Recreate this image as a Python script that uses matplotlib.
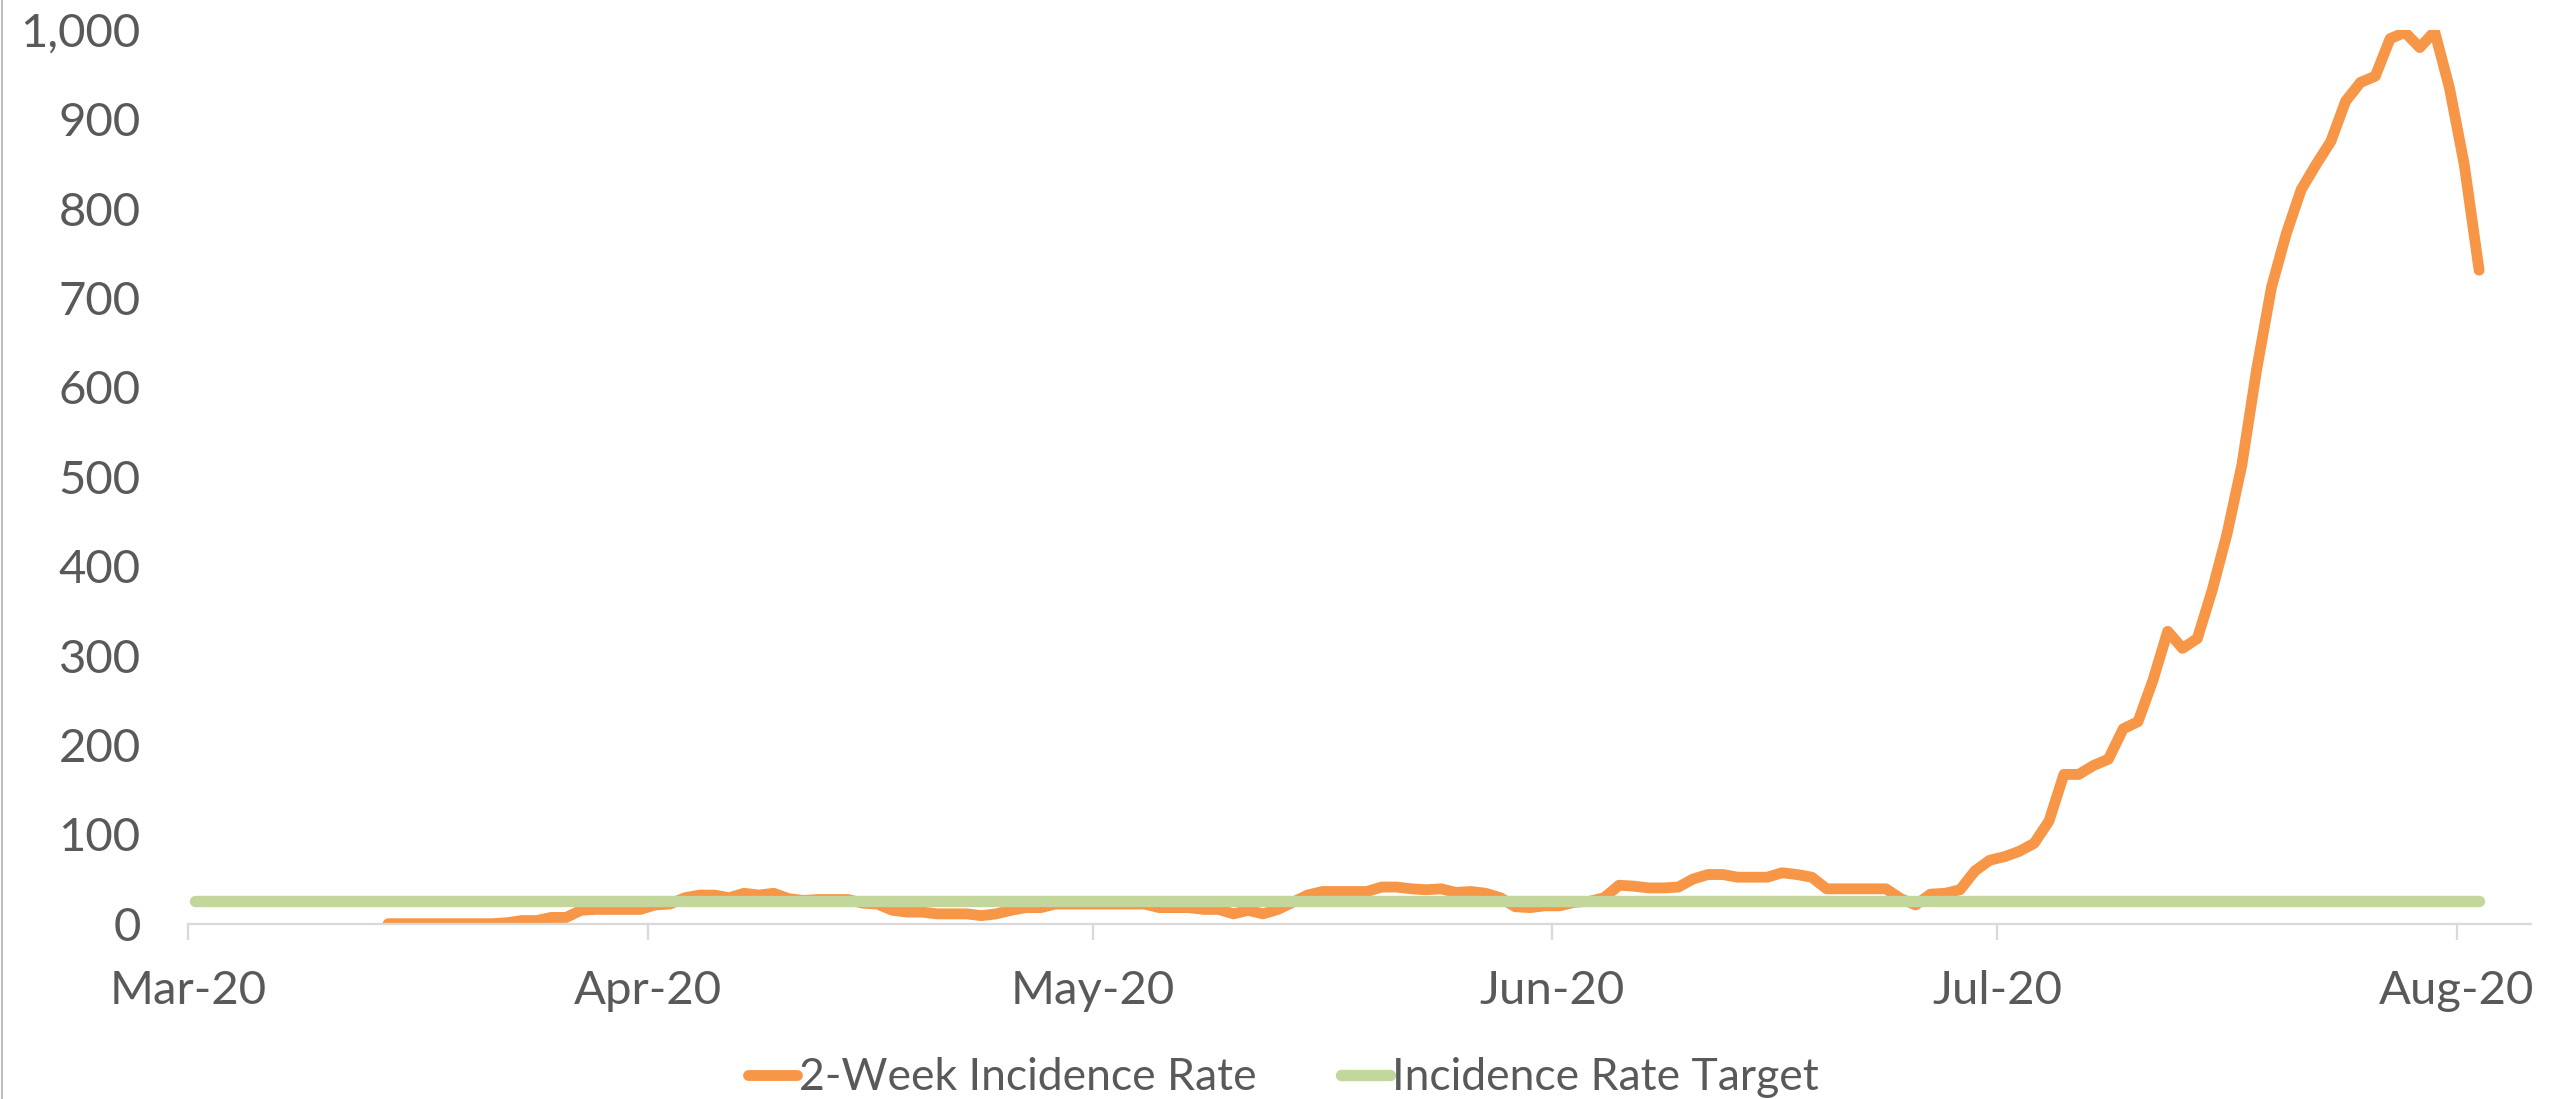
import matplotlib
matplotlib.use("Agg")
import matplotlib.pyplot as plt
import matplotlib.dates as mdates
from matplotlib.lines import Line2D
import pandas as pd

# 2-week incidence rate, one value per day from Mar 14 to Aug 2, 2020
rate_start = "2020-03-14"
rate_end = "2020-08-02"
rate_values = [
    0, 0, 0, 0, 0, 0, 0, 0, 1, 3.5, 3.5, 7, 7, 15, 16, 16, 16, 16,   # Mar 14-31
    21, 22, 29, 32, 32, 29, 34, 32, 34, 28, 26, 27, 27, 27, 23, 22,   # Apr 1-16
    15, 13, 13, 11, 11, 11, 9, 11, 15, 18, 18, 22, 22, 22,           # Apr 17-30
    22, 22, 22, 22, 18, 18, 18, 16, 16, 11, 15, 11, 16, 24, 32, 36,   # May 1-16
    36, 36, 36, 41, 41, 39, 38, 39, 35, 36, 34, 29, 19, 18, 20,       # May 17-31
    20, 24, 25, 29, 43, 42, 40, 40, 41, 50, 55, 55, 52, 52, 52,       # Jun 1-15
    57, 55, 52, 39, 39, 39, 39, 39, 28, 21, 33, 34, 38, 59, 71,       # Jun 16-30
    75, 81, 90, 115, 167, 167, 177, 184, 218, 226, 272, 327, 308,     # Jul 1-13
    319, 373, 436, 513, 620, 712, 772, 821, 849, 875, 920, 941,       # Jul 14-25
    948, 990, 997, 980, 998, 935,                                     # Jul 26-31
    849, 731,                                                         # Aug 1-2
]

# target line
target_start = "2020-03-01"
target_end = "2020-08-02"
target_value = 25

month_ticks = ["2020-03-01", "2020-04-01", "2020-05-01",
               "2020-06-01", "2020-07-01", "2020-08-01"]
month_labels = ["Mar-20", "Apr-20", "May-20", "Jun-20", "Jul-20", "Aug-20"]
y_ticks = [0, 100, 200, 300, 400, 500, 600, 700, 800, 900, 1000]

orange = "#F79646"
green = "#C3D69B"
text_gray = "#595959"
axis_gray = "#D9D9D9"

plt.rcParams["font.family"] = ["Lato", "DejaVu Sans"]

fig = plt.figure(figsize=(25.52, 10.99), dpi=100)
ax = fig.add_axes([188 / 2552, 1 - 923.7 / 1099, 2343 / 2552, 894 / 1099])

# points sit in the middle of their day, like an Excel date axis
half_day = pd.Timedelta(hours=12)
rate_dates = pd.date_range(rate_start, rate_end, freq="D") + half_day
target_dates = pd.to_datetime([target_start, target_end]) + half_day

ax.plot(rate_dates, rate_values, color=orange, lw=7.8,
        solid_capstyle="round", solid_joinstyle="round",
        label="2-Week Incidence Rate", zorder=2)
ax.plot(target_dates, [target_value, target_value], color=green, lw=8.2,
        solid_capstyle="round", label="Incidence Rate Target", zorder=3)

ax.set_xlim(pd.Timestamp("2020-03-01"), pd.Timestamp("2020-08-06"))
ax.set_ylim(0, 1000)

ax.set_xticks(pd.to_datetime(month_ticks))
ax.set_xticklabels(month_labels)
ax.set_yticks(y_ticks)
ax.set_yticklabels(["{:,}".format(v) for v in y_ticks])

for side in ["top", "right", "left"]:
    ax.spines[side].set_visible(False)
ax.spines["bottom"].set_color(axis_gray)
ax.spines["bottom"].set_linewidth(1.6)

ax.tick_params(axis="x", direction="out", length=11.5, width=1.6,
               color=axis_gray, labelsize=34, labelcolor=text_gray, pad=22)
ax.tick_params(axis="y", length=0, labelsize=34, labelcolor=text_gray, pad=34)

ax.patch.set_visible(False)

fig.legend(loc="center", bbox_to_anchor=(0.503, 1 - 1078 / 1099),
           ncol=2, frameon=False, fontsize=32, labelcolor=text_gray,
           handlelength=1.1, handletextpad=0.05, columnspacing=1.9)

# left border of the chart area
fig.add_artist(Line2D([0.0006, 0.0006], [0, 1], transform=fig.transFigure,
                      color="#BFBFBF", lw=1.5))

fig.savefig("out.png", dpi=100)
